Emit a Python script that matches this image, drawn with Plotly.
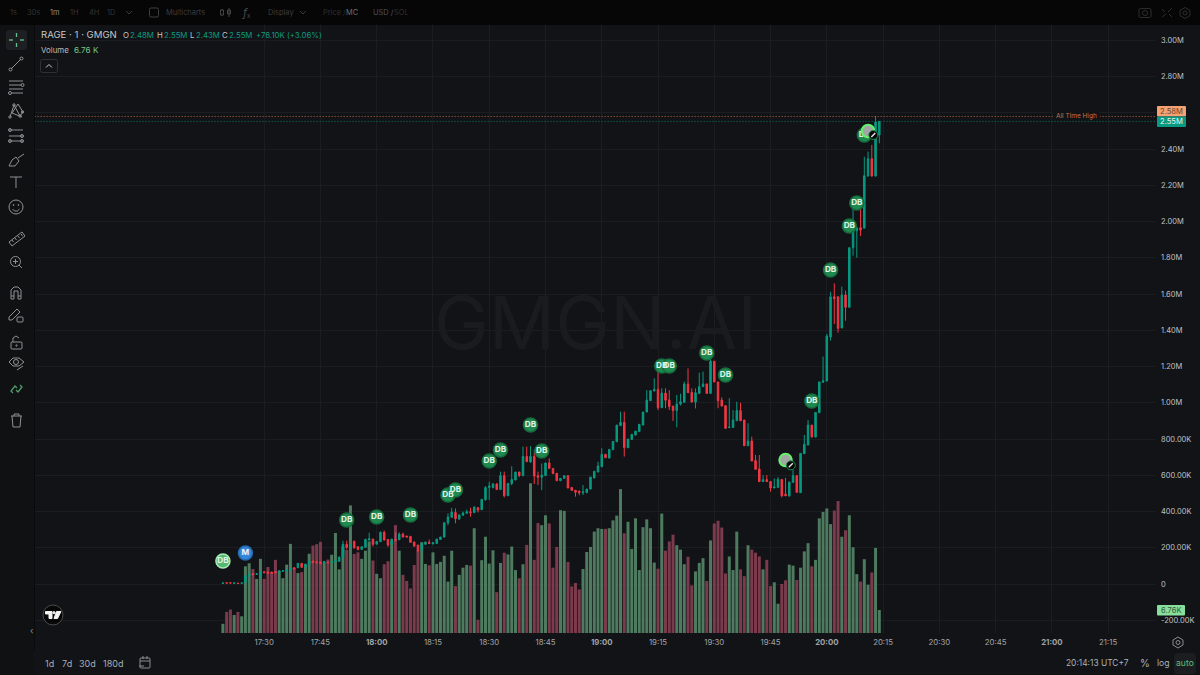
import pandas as pd
import plotly.graph_objects as go

W, H = 1200, 675
START = "2024-05-20 17:19"

opens = [3,7,7,4,5,4,7,44,57,53,
 40,68,66,66,68,62,70,73,77,90,
 90,114,92,110,127,123,121,116,121,117,
 121,125,149,219,206,235,206,191,202,243,
 248,220,233,285,246,219,246,244,276,265,
 263,232,215,186,219,230,221,224,246,259,
 338,368,395,358,379,390,399,395,421,410,
 465,533,532,552,521,598,487,555,574,618,
 598,704,673,704,598,589,598,668,638,611,
 570,583,598,533,517,513,504,504,524,585,
 618,647,716,695,741,785,874,892,752,798,
 822,841,877,949,1012,1065,1074,973,1054,1015,
 982,957,993,1003,1104,1058,1004,1052,1089,1104,
 1052,1229,1115,1015,984,863,864,901,957,905,
 763,789,681,635,565,576,566,530,533,577,
 496,485,561,598,504,719,767,877,811,945,
 1113,1120,1363,1585,1585,1413,1595,1527,1856,1950,
 1966,1964,2251,2347,2251,2478]
closes = [6,5,5,6,3,6,44,55,51,57,
 68,62,59,59,62,73,73,79,86,83,
 114,92,110,127,117,117,112,125,116,123,
 129,149,219,202,213,200,191,206,246,250,
 219,235,285,243,215,248,241,276,259,259,
 230,209,184,222,232,224,228,248,259,338,
 370,397,360,381,392,399,393,423,408,467,
 532,541,552,521,598,487,555,577,618,598,
 704,675,704,596,589,601,668,638,609,570,
 583,598,530,517,506,504,508,524,590,622,
 651,716,697,743,787,877,892,752,800,826,
 844,881,949,1015,1067,1074,973,1054,1014,979,
 957,993,1006,1104,1056,1004,1056,1089,1104,1052,
 1229,1115,1012,982,859,866,905,957,901,763,
 789,679,633,565,576,565,530,535,577,487,
 487,563,598,506,721,771,877,811,947,1115,
 1122,1368,1585,1575,1411,1595,1527,1856,1948,1966,
 1953,2253,2347,2251,2550,2553]
highs = [6,7,7,6,5,6,44,57,58,60,
 71,68,67,67,69,74,74,80,87,91,
 115,115,111,128,128,124,122,126,122,124,
 130,150,239,239,220,240,207,207,250,283,
 249,236,290,295,247,249,285,285,283,266,
 264,233,216,223,233,245,229,249,260,339,
 390,420,417,385,400,410,421,430,425,470,
 540,565,557,557,620,620,556,650,619,619,
 758,758,761,740,620,665,669,693,639,612,
 584,599,599,534,518,514,546,525,591,623,
 675,749,717,744,788,878,951,951,753,801,
 827,845,882,1070,1016,1135,1190,1080,1080,1070,
 983,1043,1050,1117,1190,1080,1080,1166,1172,1105,
 1250,1230,1116,1030,985,1025,960,1006,1000,906,
 887,813,712,712,601,601,567,583,590,578,
 586,564,630,599,722,822,905,878,948,1116,
 1255,1380,1613,1659,1586,1641,1619,1857,2070,1967,
 2082,2358,2386,2423,2583,2553]
lows = [2,4,4,3,2,3,5,43,50,52,
 38,61,58,58,61,61,69,72,76,82,
 89,91,91,109,116,116,111,115,115,116,
 120,124,145,191,200,195,185,190,201,240,
 207,219,232,240,205,218,235,243,258,258,
 229,208,175,185,218,223,220,223,245,257,
 325,366,335,356,378,389,371,390,395,409,
 460,463,528,520,520,478,486,545,573,590,
 595,674,670,552,546,518,597,637,608,569,
 569,582,529,516,482,490,491,503,523,584,
 617,646,696,694,740,784,873,703,751,797,
 821,840,876,948,1011,1064,960,972,970,960,
 900,865,985,1002,1055,1003,969,1051,1088,1051,
 1051,1114,970,981,858,862,863,900,900,762,
 762,678,632,564,564,564,510,529,532,478,
 485,484,560,505,503,718,766,810,810,944,
 1112,1119,1343,1435,1387,1412,1453,1526,1812,1801,
 1920,1963,2250,2250,2250,2432]
volumes = [2.7,6.2,6.9,5.3,6.2,4.9,19.6,20.5,18.8,15.9,
 21.8,15.9,19.4,17.7,21.5,18.2,16.1,20.1,26.2,19.1,
 17.6,17.9,20.0,23.3,25.7,26.1,26.8,20.7,21.6,23.0,
 29.4,18.7,25.4,24.4,37.5,23.2,23.7,21.8,24.2,26.9,
 21.3,17.4,16.1,20.2,21.1,27.0,31.7,24.2,17.1,15.3,
 13.1,20.0,24.4,26.7,20.3,19.9,23.7,20.3,20.9,22.7,
 15.1,24.2,13.8,17.1,19.2,20.0,19.8,30.8,3.9,21.4,
 28.3,20.4,24.3,12.0,20.6,23.6,23.1,25.4,18.5,16.1,
 20.2,25.9,44.0,21.5,32.3,31.7,34.6,32.2,19.2,25.3,
 36.1,35.9,20.9,13.7,14.7,12.8,18.8,23.8,25.3,29.8,
 30.8,30.6,30.6,30.8,33.1,34.5,42.3,29.3,32.7,24.7,
 33.7,18.5,31.1,33.4,30.8,20.7,18.9,35.1,24.2,26.9,
 28.9,25.8,24.5,20.2,22.4,14.0,18.1,20.6,22.0,15.3,
 27.2,32.2,33.0,31.0,17.5,22.5,18.5,29.8,18.7,16.7,
 25.8,24.5,23.6,22.5,18.7,21.5,13.8,14.9,8.6,14.4,
 15.5,20.1,19.8,15.6,19.2,24.0,26.4,19.6,21.5,33.7,
 35.6,36.6,32.0,36.0,38.8,28.3,30.2,34.6,25.2,17.3,
 15.1,21.7,14.2,17.8,25.0,6.76]

price_ticks = [-200,0,200,400,600,800,1000,1200,1400,1600,1800,2000,2200,2400,2600,2800,3000]
price_labels = ["-200.00K","0","200.00K","400.00K","600.00K","800.00K","1.00M","1.20M","1.40M","1.60M",
                "1.80M","2.00M","2.20M","2.40M","","2.80M","3.00M"]
time_ticks = ["17:30","17:45","18:00","18:15","18:30","18:45","19:00","19:15","19:30","19:45",
              "20:00","20:15","20:30","20:45","21:00","21:15"]
time_labels = ["17:30","17:45","<b>18:00</b>","18:15","18:30","18:45","<b>19:00</b>","19:15","19:30","19:45",
               "<b>20:00</b>","20:15","20:30","20:45","<b>21:00</b>","21:15"]

# trade bubbles: candle index, price (K), label, kind
bubble_idx = [0,33,41,50,60,62,71,74,82,85,117,119,129,134,157,162,167,169,171]
bubble_price = [127,353,370,381,491,519,679,740,878,734,1203,1203,1275,1153,1010,1733,1976,2103,2478]
bubble_label = ["DB"]*19
migrate_idx, migrate_price, migrate_label = [6], [171], ["M"]
avatar_idx, avatar_price = [150,172], [684,2500]
badge_idx, badge_price = [151.4,173.4], [655,2478]

ath_value = 2580
last_value = 2553

BG = "#111316"
GRID = "#1b1d20"
TXT = "#a9abae"
UP = "#089981"
DOWN = "#f23645"
VUP = "#4e7b5f"
VDOWN = "#7c3b4d"
ICON = "#8f9194"

t0 = pd.Timestamp(START)
times = [t0 + pd.Timedelta(minutes=i) for i in range(len(closes))]
at = lambda i: t0 + pd.Timedelta(minutes=float(i))
day = START.split()[0]

fig = go.Figure()
fig.add_trace(go.Bar(x=times, y=volumes, yaxis="y", xaxis="x",
                     marker=dict(color=[VUP if c >= o else VDOWN for o, c in zip(opens, closes)], line_width=0),
                     hoverinfo="skip", showlegend=False))
fig.add_trace(go.Candlestick(x=times, open=opens, high=highs, low=lows, close=closes, yaxis="y2", xaxis="x",
                             increasing=dict(line=dict(color=UP, width=1), fillcolor=UP),
                             decreasing=dict(line=dict(color=DOWN, width=1), fillcolor=DOWN),
                             whiskerwidth=0, hoverinfo="skip", showlegend=False))
# horizontal reference lines
xline = [pd.Timestamp(day + " 16:28"), pd.Timestamp(day + " 21:28")]
fig.add_trace(go.Scatter(x=xline, y=[ath_value]*2, yaxis="y2", mode="lines", hoverinfo="skip", showlegend=False,
                         line=dict(color="#b5683f", width=1, dash="1px,2px")))
fig.add_trace(go.Scatter(x=xline, y=[last_value]*2, yaxis="y2", mode="lines", hoverinfo="skip", showlegend=False,
                         line=dict(color="#0b7c69", width=1, dash="1px,2px")))
# bubbles
fig.add_trace(go.Scatter(x=[at(i) for i in bubble_idx], y=bubble_price, yaxis="y2", mode="markers+text",
                         text=["<b>%s</b>" % s for s in bubble_label], textposition="middle center",
                         textfont=dict(family="Inter", size=8.2, color="#e4f3e8"),
                         marker=dict(size=14, color=["#55b874"] + ["#1f8a4f"]*18,
                                     line=dict(width=1.5, color=["#a6ecb4"] + ["#176b3e"]*18)),
                         hoverinfo="skip", showlegend=False))
fig.add_trace(go.Scatter(x=[at(i) for i in migrate_idx], y=migrate_price, yaxis="y2", mode="markers+text",
                         text=["<b>%s</b>" % s for s in migrate_label], textposition="middle center",
                         textfont=dict(family="Inter", size=8.2, color="#eef4fb"),
                         marker=dict(size=14, color="#3585d8", line=dict(width=1.5, color="#2468ad")),
                         hoverinfo="skip", showlegend=False))
fig.add_trace(go.Scatter(x=[at(i) for i in avatar_idx], y=avatar_price, yaxis="y2", mode="markers", hoverinfo="skip",
                         showlegend=False, marker=dict(size=12.5, color="#a3a7a4", line=dict(width=2, color="#66f06e"))))
fig.add_trace(go.Scatter(x=[at(i) for i in badge_idx], y=badge_price, yaxis="y2", mode="markers", hoverinfo="skip",
                         showlegend=False, marker=dict(size=9, color="#050505", symbol="circle",
                                                       line=dict(width=1, color="#1f8a4f"))))
fig.add_trace(go.Scatter(x=[at(i) for i in badge_idx], y=badge_price, yaxis="y2", mode="markers", hoverinfo="skip",
                         showlegend=False, marker=dict(size=4, symbol="line-ne", line=dict(width=1.4, color="#e8e8e8"))))

def X(x): return x / W
def Y(y): return 1 - y / H

shapes, annos = [], []

def rect(x0, y0, x1, y1, fill, layer="below", line=None):
    shapes.append(dict(type="rect", xref="paper", yref="paper", x0=X(x0), x1=X(x1), y0=Y(y0), y1=Y(y1),
                       fillcolor=fill, line=dict(width=1 if line else 0, color=line or fill), layer=layer))

def poly(pts, color=ICON, w=1, closed=False, fill=None):
    d = "M " + " L ".join("%.5f %.5f" % (X(a), Y(b)) for a, b in pts) + (" Z" if closed else "")
    s = dict(type="path", xref="paper", yref="paper", path=d, line=dict(color=color, width=w), layer="above")
    if fill:
        s["fillcolor"] = fill
    shapes.append(s)

def circ(cx, cy, r, color=ICON, w=1, fill=None):
    s = dict(type="circle", xref="paper", yref="paper", x0=X(cx-r), x1=X(cx+r), y0=Y(cy+r), y1=Y(cy-r),
             line=dict(color=color, width=w), layer="above")
    if fill:
        s["fillcolor"] = fill
    shapes.append(s)

def rrect(x0, y0, x1, y1, r, color=None, fill=None, w=1):
    c = [(x0+r,y0,x1-r,y0,x1,y0,x1,y0+r),(x1,y0+r,x1,y1-r,x1,y1,x1-r,y1),
         (x1-r,y1,x0+r,y1,x0,y1,x0,y1-r),(x0,y1-r,x0,y0+r,x0,y0,x0+r,y0)]
    d = "M %.5f %.5f " % (X(x0+r), Y(y0))
    for a in c:
        d += "L %.5f %.5f Q %.5f %.5f %.5f %.5f " % (X(a[2]), Y(a[3]), X(a[4]), Y(a[5]), X(a[6]), Y(a[7]))
    s = dict(type="path", xref="paper", yref="paper", path=d + "Z", layer="above",
             line=dict(color=color or "rgba(0,0,0,0)", width=w if color else 0))
    if fill:
        s["fillcolor"] = fill
    shapes.append(s)

def T(x, y, text, color=TXT, size=9, anchor="left", fam="Inter", bg=None):
    a = dict(xref="paper", yref="paper", x=X(x), y=Y(y), text=text, showarrow=False, xanchor=anchor,
             yanchor="middle", font=dict(family=fam, size=size, color=color), borderpad=0, borderwidth=0)
    if bg:
        a["bgcolor"] = bg
    annos.append(a)

# panels
rect(0, 0, W, 25, "#060607")
rect(0, 25, 34, H, "#0f1113")
rect(34, 25, 35, 650, "#08090a")

# top toolbar
for x, s, c in [(10,"1s","#333436"),(27,"30s","#333436"),(50,"1m","#8a8b8d"),(70,"1H","#333436"),
                (88.5,"4H","#333436"),(107,"1D","#333436"),(166,"Multicharts","#3c3d3f"),(268,"Display","#3c3d3f"),
                (323,"Price /","#2e2f31"),(346,"MC","#6c6d70"),(373,"USD /","#505154"),(394,"SOL","#2e2f31")]:
    T(x, 12.5, s, c, 7.4)
poly([(126,11),(129,14),(132,11)], "#3a3b3d")
poly([(300,11),(303,14),(306,11)], "#3a3b3d")
rrect(149.5,8,158.5,17,1.5,"#3e3f41")
poly([(222,9),(222,16)], "#454648"); rect(220.5,10,223.5,15,"#060607","above","#454648")
rect(227.5,10,230.5,14,"#060607","above","#454648"); poly([(229,8),(229,17)], "#454648")
T(242,13,"<i>f</i>","#4a4b4d",11); T(247,15.5,"x","#4a4b4d",6)
# top-right icons
rrect(1139,8.5,1151,17.5,1.5,"#2c2d2f"); circ(1145,13,2.5,"#2c2d2f")
poly([(1162,9),(1165,12)],"#2c2d2f"); poly([(1172,8),(1168,12)],"#2c2d2f"); poly([(1162,17),(1166,14)],"#2c2d2f"); poly([(1169,14),(1172,17)],"#2c2d2f")
poly([(1185,7.5),(1190,10.5),(1190,15.5),(1185,18.5),(1180,15.5),(1180,10.5)],"#2c2d2f",closed=True); circ(1185,13,2,"#2c2d2f")

# legend
T(41, 35, "RAGE · 1 · GMGN", "#c4c6c8", 9.6)
for x, s, c in [(123,"O","#c4c6c8"),(130,"2.48M","#0f9b80"),(157,"H","#c4c6c8"),(163.5,"2.55M","#0f9b80"),
                (190,"L","#c4c6c8"),(196,"2.43M","#0f9b80"),(222,"C","#c4c6c8"),(229,"2.55M","#0f9b80"),
                (256,"+76.10K (+3.06%)","#0f9b80")]:
    T(x, 35, s, c, 7.8)
T(41, 50, "Volume", "#b8babc", 7.9)
T(74, 50, "6.76 K", "#72c98d", 8.2)
rrect(40.5,59.5,57.5,72.5,2,"#2f3134")
poly([(46,67.5),(49,64.5),(52,67.5)],"#c8c9cb")

# watermark
T(595, 322, "GMGN.AI", "#191b1e", 73.5, "center")

# all time high label
rect(1053,112,1100,120,BG,"above")
T(1076.5,115.5,"All Time High","#c4764a",6.5,"center")

# right-hand price tags
rrect(1157,106,1186,116.5,1,fill="#f4a273")
T(1171.5,111.3,"2.58M","#6e4428",7.6,"center")
rrect(1157,116.5,1186,127,1,fill="#089981")
T(1171.5,121.8,"2.55M","#e6f5f2",7.6,"center")
rrect(1157,605,1185,615.5,1,fill="#86e09b")
T(1171,610.3,"6.76K","#35583e",7.6,"center")

# bottom
for x, s in [(49,"1d"),(67,"7d"),(87,"30d"),(113,"180d")]:
    T(x, 663, s, "#a6aeb6", 9, "center")
T(1097, 663, "20:14:13 UTC+7", "#aab2ba", 8.4, "center")
T(1145, 663, "%", "#aab2ba", 10, "center")
T(1163, 663, "log", "#aab2ba", 8.6, "center")
rrect(1174,653,1196,674,4,fill="#1b1d20")
T(1185, 663, "auto", "#5cc07c", 8.6, "center")
T(32, 630, "‹", "#8a8c8e", 9, "center")
# settings hexagon
poly([(1178,637),(1183,640),(1183,645),(1178,648),(1173,645),(1173,640)],"#8a8c8e",closed=True); circ(1178,642.5,2,"#8a8c8e")
# calendar
rrect(140,658,150,668,1,"#8a8c8e"); poly([(140,661),(150,661)],"#8a8c8e"); poly([(143,656),(143,659)],"#8a8c8e"); poly([(147,656),(147,659)],"#8a8c8e")
poly([(139,666),(144,666)],"#8a8c8e")
# TradingView mark
circ(53,615,10,"#4a4b4d",1,"#070708")
poly([(45.5,611.5),(52,611.5),(52,618.5),(49,618.5),(49,614),(45.5,614)],"#f2f2f2",1,True,"#f2f2f2")
circ(54,612.7,1.1,"#f2f2f2",1,"#f2f2f2")
poly([(56.5,611.5),(61,611.5),(57.5,618.5),(54,618.5)],"#f2f2f2",1,True,"#f2f2f2")

# left toolbar
rrect(6,30,27,50,3,fill="#1d1f22")
GC = "#66c085"
for a in [((16.5,33),(16.5,37)),((16.5,43),(16.5,47)),((9,40),(13,40)),((20,40),(24,40))]:
    poly(list(a), GC, 1.3)
poly([(11,69),(21,59)]); circ(10.5,69.5,1.5); circ(21.5,58.5,1.5)
for y, a, b in [(81,9,23),(85,9,21),(89,9,23),(93,12,23)]:
    poly([(a,y),(b,y)])
circ(22.5,85,1.5); circ(10,93,1.5)
poly([(10,117),(14,105),(20,116),(23,112),(18,104),(12,113),(22,117)]); circ(14,105,1.2); circ(20,116,1.2); circ(10,117,1.2); circ(22.5,112,1.2)
for y in (130,136,141):
    poly([(9,y),(23,y)])
circ(10,130,1.5); circ(22,136,1.5); circ(10,141,1.5); circ(22,141,1.5)
poly([(9,166),(12,160),(16,157),(19,161),(15,166),(9,166)]); poly([(18,158),(24,154)])
poly([(10,177),(22,177)]); poly([(16,177),(16,188)])
circ(16,207,7); circ(13.5,205,0.5); circ(18.5,205,0.5); poly([(12.5,209),(14.5,211),(17.5,211),(19.5,209)])
poly([(9,242),(22,232),(25,236),(12,246),(9,242)])
for p in [(12,240),(15,238),(18,236),(21,234)]:
    poly([p,(p[0]+1.5,p[1]+2)])
circ(15.5,261.5,5); poly([(19,265),(22,268)]); poly([(13,261.5),(18,261.5)]); poly([(15.5,259),(15.5,264)])
poly([(11,299),(11,290),(14,287),(18,287),(21,290),(21,299),(18,299),(18,291),(14,291),(14,299),(11,299)]); poly([(11,296),(14,296)]); poly([(18,296),(21,296)])
poly([(9,317),(17,309),(20,312),(12,320),(9,320),(9,317)]); rrect(17,317,23,322,1,ICON)
rrect(11,342,22,349,1,ICON); poly([(13,342),(13,338),(16,336),(19,338)]); circ(16.5,345.5,0.7)
poly([(9,362),(13,358),(19,358),(24,362),(19,366),(13,366),(9,362)]); circ(16,362,2.5); poly([(17,370),(23,366)])
poly([(13,393),(11,391),(15,386),(17,388)],"#4f9d6b",1.3); poly([(20,385),(22,387),(18,392),(16,390)],"#4f9d6b",1.3)
poly([(11,416),(22,416)]); poly([(12,416),(13,427),(20,427),(21,416)]); poly([(14,416),(14,414),(19,414),(19,416)])

fig.update_layout(
    width=W, height=H, autosize=False, margin=dict(l=0, r=0, t=0, b=0),
    paper_bgcolor=BG, plot_bgcolor=BG, showlegend=False, barmode="overlay",
    bargap=0.2, boxgap=0.42, font=dict(family="Inter", size=9, color=TXT),
    shapes=shapes, annotations=annos,
    xaxis=dict(type="date", domain=[35/W, 1155/W], anchor="y",
               range=[day + " 16:28:54", day + " 21:27:30"],
               tickmode="array", tickvals=[day + " " + t for t in time_ticks], ticktext=time_labels,
               showgrid=True, gridcolor=GRID, gridwidth=1, zeroline=False, showline=False, ticks="",
               ticklabelstandoff=3,
               rangeslider=dict(visible=False), tickfont=dict(family="Inter", size=7.8, color="#a2a4a7")),
    yaxis=dict(domain=[1-633/H, 1-25/H], range=[0, 178.7], visible=False, fixedrange=True),
    yaxis2=dict(domain=[1-633/H, 1-25/H], overlaying="y", side="right", anchor="x",
                range=[-270.4, 3085], tickmode="array", tickvals=price_ticks, ticktext=price_labels,
                showgrid=True, gridcolor=GRID, gridwidth=1, zeroline=False, showline=False, ticks="",
                ticklabelstandoff=5,
                tickfont=dict(family="Inter", size=7.5, color="#c0c2c5")),
)
fig.write_html("out.html", post_script="document.body.style.margin='0';document.body.style.background='%s';" % BG,
               config=dict(displayModeBar=False))
